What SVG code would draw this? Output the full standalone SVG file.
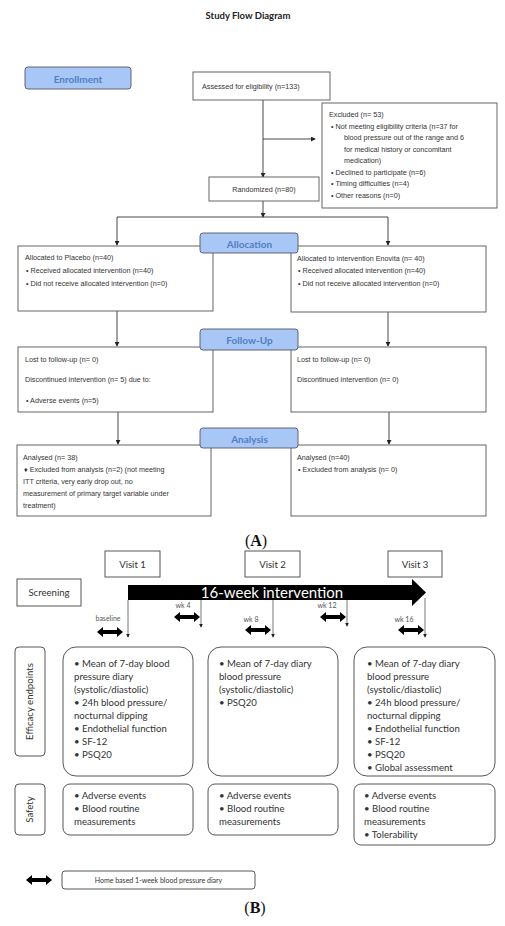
<svg xmlns="http://www.w3.org/2000/svg" width="505" height="926" viewBox="0 0 505 926">
<style>
.bg{fill:#fff}
.box{fill:#fff;stroke:#555;stroke-width:0.9}
.pill{fill:#a8c6f6;stroke:#556;stroke-width:0.9}
.pt{font-family:Lato,"Open Sans",sans-serif;font-weight:bold;font-size:10px;fill:#4f7fc3;text-anchor:middle}
.t{font-family:"Liberation Sans",Arial,sans-serif;font-size:7.2px;fill:#333}
.ln{fill:none;stroke:#333;stroke-width:0.9}
.bl{fill:none;stroke:#555;stroke-width:0.8}
.bbox{fill:#fff;stroke:#444;stroke-width:0.9}
.c{font-family:Lato,"Open Sans",sans-serif;font-size:9.6px;fill:#333}
.cm{text-anchor:middle}
.wk{font-family:Lato,"Open Sans",sans-serif;font-size:7px;fill:#555;text-anchor:middle}
.lab{font-family:"Liberation Serif","Times New Roman",serif;font-size:16px;fill:#111;text-anchor:middle}
</style>
<defs>
<marker id="ah" viewBox="0 0 6 6" refX="5" refY="3" markerWidth="5" markerHeight="5" orient="auto" markerUnits="userSpaceOnUse"><path d="M0,0 L6,3 L0,6 Z" fill="#222"/></marker>
<marker id="sh" viewBox="0 0 6 6" refX="5" refY="3" markerWidth="4" markerHeight="4" orient="auto" markerUnits="userSpaceOnUse"><path d="M0,0 L6,3 L0,6 Z" fill="#222"/></marker>
<symbol id="dbl" viewBox="-13 -5 26 10" width="26" height="10" overflow="visible"><path d="M-13,0 L-7,-5 L-7,-2 L7,-2 L7,-5 L13,0 L7,5 L7,2 L-7,2 L-7,5 Z" fill="#000"/></symbol>
</defs>
<rect class="bg" x="0" y="0" width="505" height="926"/>
<text x="248" y="19" style="font-family:Lato,'Open Sans',sans-serif;font-weight:bold;font-size:9.5px;fill:#222" text-anchor="middle">Study Flow Diagram</text>

<g id="connectors">
<path class="ln" d="M263,100 V177" marker-end="url(#ah)"/>
<path class="ln" d="M263,139 H315" marker-end="url(#ah)"/>
<path class="ln" d="M263,201 V217" marker-end="url(#ah)"/>
<path class="ln" d="M117,217 H388"/>
<path class="ln" d="M117,217 V245" marker-end="url(#ah)"/>
<path class="ln" d="M388,217 V245" marker-end="url(#ah)"/>
<path class="ln" d="M117,311 V346" marker-end="url(#ah)"/>
<path class="ln" d="M388,312 V346" marker-end="url(#ah)"/>
<path class="ln" d="M118,412 V444" marker-end="url(#ah)"/>
<path class="ln" d="M389,412 V444" marker-end="url(#ah)"/>
<path class="bl" d="M128,600 V637" marker-end="url(#sh)"/>
<path class="bl" d="M201,600 V627" marker-end="url(#sh)"/>
<path class="bl" d="M273,600 V637" marker-end="url(#sh)"/>
<path class="bl" d="M347,600 V626" marker-end="url(#sh)"/>
<path class="bl" d="M425,598 V637" marker-end="url(#sh)"/>
</g>

<g id="enrollment"><rect class="pill" x="25" y="67" width="106" height="22" rx="3"/><text class="pt" x="78" y="82.5">Enrollment</text></g>
<g id="assessed"><rect class="box" x="193" y="72" width="137" height="28"/><text class="t" x="202" y="89">Assessed for eligibility (n=133)</text></g>
<g id="excluded"><rect class="box" x="322" y="103" width="175" height="105"/>
<text class="t" x="329" y="117">Excluded (n= 53)</text>
<text class="t" x="331" y="128.5">•  Not meeting eligibility criteria (n=37 for</text>
<text class="t" x="344" y="140">blood pressure out of the range and 6</text>
<text class="t" x="344" y="151.5">for medical history or concomitant</text>
<text class="t" x="344" y="163">medication)</text>
<text class="t" x="331" y="174.5">•  Declined to participate (n=6)</text>
<text class="t" x="331" y="186">•  Timing difficulties (n=4)</text>
<text class="t" x="331" y="197.5">•  Other reasons (n=0)</text></g>
<g id="randomized"><rect class="box" x="209" y="177" width="110" height="24"/><text class="t" x="264" y="192" text-anchor="middle">Randomized (n=80)</text></g>

<g id="placebo"><rect class="box" x="18" y="246" width="195" height="65"/>
<text class="t" x="25" y="260">Allocated to Placebo (n=40)</text>
<text class="t" x="26" y="272.5">• Received allocated intervention (n=40)</text>
<text class="t" x="26" y="285.5">• Did not receive allocated intervention (n=0)</text></g>
<g id="enovita"><rect class="box" x="291" y="246" width="195" height="66"/>
<text class="t" x="297" y="260.5">Allocated to intervention Enovita (n= 40)</text>
<text class="t" x="298" y="273">• Received allocated intervention (n=40)</text>
<text class="t" x="298" y="286">• Did not receive allocated intervention (n=0)</text></g>
<g id="allocation"><rect class="pill" x="200" y="233" width="98" height="20" rx="3"/><text class="pt" x="249.5" y="247.5">Allocation</text></g>

<g id="followup-left"><rect class="box" x="18" y="347" width="195" height="65"/>
<text class="t" x="25" y="361.5">Lost to follow-up (n= 0)</text>
<text class="t" x="25" y="381.5">Discontinued intervention (n= 5) due to:</text>
<text class="t" x="26" y="402.5">• Adverse events (n=5)</text></g>
<g id="followup-right"><rect class="box" x="291" y="347" width="195" height="65"/>
<text class="t" x="297" y="361.5">Lost to follow-up (n= 0)</text>
<text class="t" x="297" y="381.5">Discontinued intervention (n= 0)</text></g>
<g id="followup"><rect class="pill" x="200" y="329" width="98" height="21" rx="3"/><text class="pt" x="249.5" y="343.5">Follow-Up</text></g>

<g id="analysis-left"><rect class="box" x="17" y="445" width="194" height="71"/>
<text class="t" x="23" y="459.5">Analysed  (n= 38)</text>
<text class="t" x="24" y="471.5">♦ Excluded from analysis (n=2) (not meeting</text>
<text class="t" x="23" y="483.5">ITT criteria, very early drop out, no</text>
<text class="t" x="23" y="495.5">measurement of primary target variable under</text>
<text class="t" x="23" y="507.5">treatment)</text></g>
<g id="analysis-right"><rect class="box" x="291" y="445" width="195" height="71"/>
<text class="t" x="297" y="459.5">Analysed  (n=40)</text>
<text class="t" x="298" y="471.5">• Excluded from analysis (n= 0)</text></g>
<g id="analysis"><rect class="pill" x="200" y="428" width="98" height="20" rx="3"/><text class="pt" x="249.5" y="442.5">Analysis</text></g>

<text class="lab" x="256" y="546">(<tspan font-weight="bold">A</tspan>)</text>

<g id="visit1"><rect class="bbox" x="105" y="551" width="55" height="26"/><text class="c cm" x="132.5" y="567.5">Visit 1</text></g>
<g id="visit2"><rect class="bbox" x="245" y="551" width="55" height="26"/><text class="c cm" x="272.5" y="567.5">Visit 2</text></g>
<g id="visit3"><rect class="bbox" x="388" y="551" width="54" height="26"/><text class="c cm" x="415" y="567.5">Visit 3</text></g>
<g id="screening"><rect class="bbox" x="17" y="579" width="64" height="27"/><text class="c cm" x="49" y="596">Screening</text></g>
<g id="intervention"><path d="M128,585 H412 V579 L426,592.5 L412,606 V600 H128 Z" fill="#000"/>
<text x="272" y="598" style="font-family:Lato,'Open Sans',sans-serif;font-size:15px;fill:#fff" text-anchor="middle">16-week intervention</text></g>

<g id="diaries">
<text class="wk" x="108" y="621">baseline</text><use href="#dbl" x="97" y="627"/>
<text class="wk" x="183" y="608">wk 4</text><use href="#dbl" x="174" y="612"/>
<text class="wk" x="251" y="622">wk 8</text><use href="#dbl" x="245" y="625"/>
<text class="wk" x="327" y="608">wk 12</text><use href="#dbl" x="320" y="612"/>
<text class="wk" x="404" y="622">wk 16</text><use href="#dbl" x="398" y="625"/>
</g>

<g id="efficacy-label"><rect class="bbox" x="15" y="647" width="30" height="109" rx="4"/><text class="c cm" transform="translate(33,701.5) rotate(-90)">Efficacy endpoints</text></g>
<g id="efficacy1"><rect class="bbox" x="63" y="647" width="130" height="129" rx="13"/>
<text class="c" x="74" y="667">• Mean of 7-day blood</text>
<text class="c" x="74" y="680">pressure diary</text>
<text class="c" x="74" y="693">(systolic/diastolic)</text>
<text class="c" x="74" y="706">• 24h blood pressure/</text>
<text class="c" x="74" y="719">nocturnal dipping</text>
<text class="c" x="74" y="732">• Endothelial function</text>
<text class="c" x="74" y="745">• SF-12</text>
<text class="c" x="74" y="758">• PSQ20</text></g>
<g id="efficacy2"><rect class="bbox" x="208" y="647" width="130" height="129" rx="13"/>
<text class="c" x="219" y="667">• Mean of 7-day diary</text>
<text class="c" x="219" y="680">blood pressure</text>
<text class="c" x="219" y="693">(systolic/diastolic)</text>
<text class="c" x="219" y="706">• PSQ20</text></g>
<g id="efficacy3"><rect class="bbox" x="354" y="647" width="141" height="129" rx="13"/>
<text class="c" x="367" y="667">• Mean of 7-day diary</text>
<text class="c" x="367" y="680">blood pressure</text>
<text class="c" x="367" y="693">(systolic/diastolic)</text>
<text class="c" x="367" y="706">• 24h blood pressure/</text>
<text class="c" x="367" y="719">nocturnal dipping</text>
<text class="c" x="367" y="732">• Endothelial function</text>
<text class="c" x="367" y="745">• SF-12</text>
<text class="c" x="367" y="758">• PSQ20</text>
<text class="c" x="367" y="771">• Global assessment</text></g>

<g id="safety-label"><rect class="bbox" x="15" y="784" width="30" height="51" rx="4"/><text class="c cm" transform="translate(33,809.5) rotate(-90)">Safety</text></g>
<g id="safety1"><rect class="bbox" x="63" y="784" width="130" height="51" rx="7"/>
<text class="c" x="74" y="799">• Adverse events</text>
<text class="c" x="74" y="812">• Blood routine</text>
<text class="c" x="74" y="825">measurements</text></g>
<g id="safety2"><rect class="bbox" x="208" y="784" width="130" height="51" rx="7"/>
<text class="c" x="219" y="799">• Adverse events</text>
<text class="c" x="219" y="812">• Blood routine</text>
<text class="c" x="219" y="825">measurements</text></g>
<g id="safety3"><rect class="bbox" x="354" y="784" width="141" height="61" rx="7"/>
<text class="c" x="364" y="799">• Adverse events</text>
<text class="c" x="364" y="812">• Blood routine</text>
<text class="c" x="364" y="825">measurements</text>
<text class="c" x="364" y="838">• Tolerability</text></g>

<g id="legend"><use href="#dbl" x="26" y="875"/>
<rect class="bbox" x="62" y="871" width="193" height="18" rx="3"/>
<text x="158.5" y="883" style="font-family:Lato,'Open Sans',sans-serif;font-size:7px;fill:#333" text-anchor="middle">Home based 1-week blood pressure diary</text></g>

<text class="lab" x="255" y="913">(<tspan font-weight="bold">B</tspan>)</text>
</svg>
